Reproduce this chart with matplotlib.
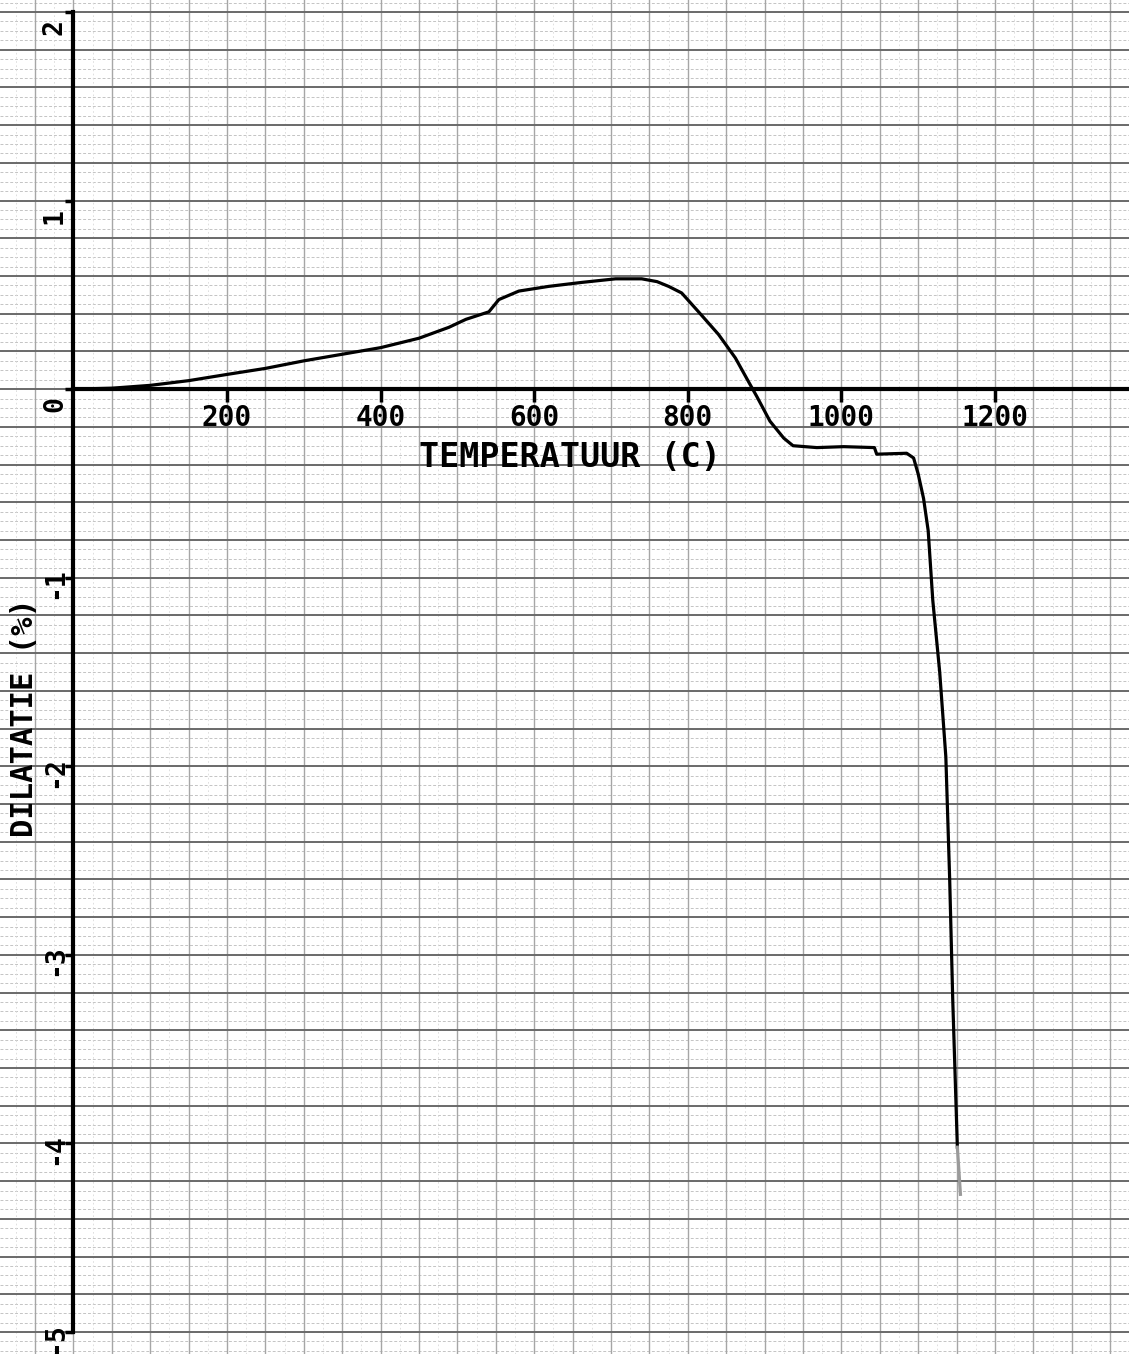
import numpy as np
import matplotlib
matplotlib.use("Agg")
import matplotlib.pyplot as plt

# ---- data ----
temperature = [0, 50, 100, 150, 200, 250, 300, 350, 400, 450, 489, 511, 541, 554,
               580, 619, 662, 706, 740, 760, 775, 792, 814, 840, 862, 879, 890,
               907, 925, 937, 968, 1003, 1043, 1046, 1085, 1094, 1100, 1107,
               1113, 1119, 1128, 1136, 1141, 1145, 1151]
dilatation = [0.0, 0.005, 0.02, 0.045, 0.078, 0.11, 0.15, 0.185, 0.22, 0.27, 0.328,
              0.37, 0.41, 0.475, 0.52, 0.545, 0.566, 0.585, 0.585, 0.57, 0.545,
              0.51, 0.41, 0.29, 0.165, 0.04, -0.04, -0.17, -0.26, -0.30, -0.31,
              -0.305, -0.31, -0.345, -0.34, -0.365, -0.45, -0.58, -0.75, -1.12,
              -1.5, -1.95, -2.6, -3.24, -4.02]
tail_temperature = [1151, 1155]
tail_dilatation = [-4.02, -4.27]

xticks = [200, 400, 600, 800, 1000, 1200]
xtick_labels = ["200", "400", "600", "800", "1000", "1200"]
yticks = [2, 1, 0, -1, -2, -3, -4, -5]
ytick_labels = ["2", "1", "0", "-1", "-2", "-3", "-4", "-5"]
xlabel = "TEMPERATUUR (C)"
ylabel = "DILATATIE (%)"

FONT = "DejaVu Sans Mono"

fig = plt.figure(figsize=(11.29, 13.54), dpi=100)
ax = fig.add_axes([0, 0, 1, 1])
ax.set_xlim(-95.6, 1374.5)
ax.set_ylim(-5.1167, 2.0636)

# ---- graph paper ----
xmaj = np.arange(-50, 1401, 50)
ymaj = np.arange(-5.2, 2.11, 0.2)
xmin_ = np.arange(-75, 1401, 25)
ymin_ = np.arange(-5.2, 2.11, 0.05)
for yv in ymin_:
    ax.axhline(yv, color="#c4c4c4", lw=0.7, ls=(0, (3, 2)), zorder=0)
for xv in xmin_:
    ax.axvline(xv, color="#dadada", lw=0.6, ls=(0, (2, 3)), zorder=0)
for yv in ymaj:
    ax.axhline(yv, color="#6a6a6a", lw=1.4, zorder=0.5)
for xv in xmaj:
    ax.axvline(xv, color="#a6a6a6", lw=1.0, zorder=0.4)

# ---- axes (plotter style) ----
for s in ["top", "right"]:
    ax.spines[s].set_visible(False)
ax.spines["left"].set_position(("data", 0))
ax.spines["left"].set_bounds(-5, 2)
ax.spines["left"].set_linewidth(3.0)
ax.spines["bottom"].set_position(("data", 0))
ax.spines["bottom"].set_bounds(0, 1374.5)
ax.spines["bottom"].set_linewidth(3.0)
ax.spines["left"].set_zorder(3)
ax.spines["bottom"].set_zorder(3)

ax.set_xticks(xticks)
ax.set_xticklabels(xtick_labels, fontfamily=FONT, fontweight="bold", fontsize=20)
ax.tick_params(axis="x", direction="out", length=9, width=2.5, pad=2, colors="black")
ax.set_yticks(yticks)
ax.set_yticklabels([""] * len(yticks))
ax.tick_params(axis="y", direction="out", length=6, width=2.5, colors="black")

for v, lab in zip(yticks, ytick_labels):
    off = 0.08 if v >= 0 else 0.03
    ax.text(-24, v - off, lab, rotation=90, ha="center", va="center",
            fontfamily=FONT, fontweight="bold", fontsize=19, zorder=4)

ax.text(647, -0.365, xlabel, ha="center", va="center", fontfamily=FONT,
        fontweight="bold", fontsize=24, zorder=4)
ax.text(-64, -1.744, ylabel, rotation=90, ha="center", va="center",
        fontfamily=FONT, fontweight="bold", fontsize=22, zorder=4)

# ---- curve ----
ax.plot(temperature, dilatation, color="black", lw=2.3, zorder=5,
        solid_joinstyle="round")
ax.plot(tail_temperature, tail_dilatation, color="#9a9a9a", lw=2.3, zorder=5)

fig.savefig("out.png", dpi=100)
